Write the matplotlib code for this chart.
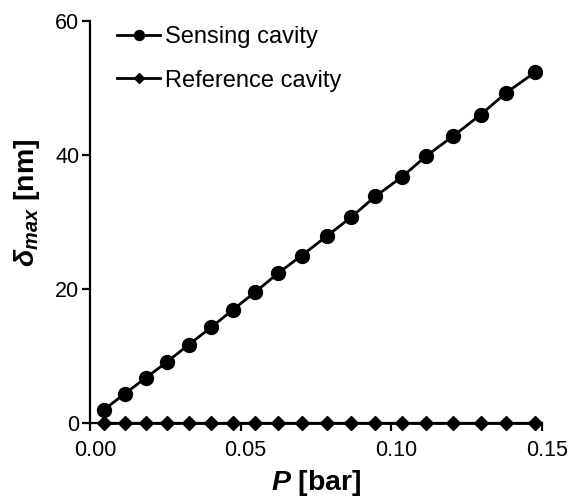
import matplotlib
matplotlib.use("Agg")
import matplotlib.pyplot as plt
from matplotlib.transforms import ScaledTranslation

plt.rcParams['font.family'] = ['Liberation Sans', 'DejaVu Sans']
plt.rcParams['mathtext.fontset'] = 'custom'
plt.rcParams['mathtext.rm'] = 'Liberation Sans'
plt.rcParams['mathtext.it'] = 'Liberation Sans:italic'
plt.rcParams['mathtext.bf'] = 'Liberation Sans:bold'
plt.rcParams['mathtext.bfit'] = 'Liberation Sans:italic:bold'

# pressure [bar]
pressure = [0.0047, 0.0116, 0.0185, 0.0254, 0.0328, 0.0402, 0.0475, 0.0548, 0.0625, 0.0702,
            0.0785, 0.0867, 0.0947, 0.1034, 0.1114, 0.1205, 0.1296, 0.1381, 0.1476]
# max deflection [nm]
sensing = [2.0, 4.39, 6.72, 9.06, 11.70, 14.28, 16.93, 19.54, 22.39, 24.99,
           27.87, 30.75, 33.84, 36.70, 39.81, 42.84, 46.03, 49.31, 52.34]
reference = [0.0] * len(pressure)

fig = plt.figure(figsize=(5.69, 5.0), dpi=100)
ax = fig.add_axes([0.158, 0.154, 0.795, 0.804])

ax.plot(pressure, sensing, color='black', lw=2.0, marker='o', markersize=10, label='Sensing cavity')
ax.plot(pressure, reference, color='black', lw=2.0, marker='D', markersize=7, label='Reference cavity',
        clip_on=False, zorder=3)

ax.set_xlim(0, 0.15)
ax.set_ylim(0, 60)
ax.set_xticks([0, 0.05, 0.10, 0.15])
ax.set_xticklabels(['0.00', '0.05', '0.10', '0.15'])
ax.set_yticks([0, 20, 40, 60])

for s in ['top', 'right']:
    ax.spines[s].set_visible(False)
for s in ['left', 'bottom']:
    ax.spines[s].set_linewidth(1.6)
ax.tick_params(width=1.6, length=5.5, labelsize=15.5, direction='out')
ax.tick_params(axis='x', pad=7)
ax.tick_params(axis='y', pad=2)

# x tick labels sit a bit right of their ticks in the original
shift = ScaledTranslation(5 / 100, 0, fig.dpi_scale_trans)
for lbl in ax.get_xticklabels():
    lbl.set_transform(lbl.get_transform() + shift)

ax.set_xlabel(r'$\mathbfit{P}$ [bar]', fontsize=20.5, fontweight='bold', labelpad=5)
ax.set_ylabel(r'$\mathbfit{\delta}_{\mathbfit{max}}$ [nm]', fontsize=20.5, fontweight='bold')
ax.yaxis.set_label_coords(-0.105, 0.547)

ax.legend(loc='upper left', frameon=False, fontsize=17, markerscale=0.72, handlelength=1.8,
          labelspacing=0.9, handletextpad=0.22, borderaxespad=0, bbox_to_anchor=(0.04, 1.01))

fig.savefig('out.png', dpi=100)
